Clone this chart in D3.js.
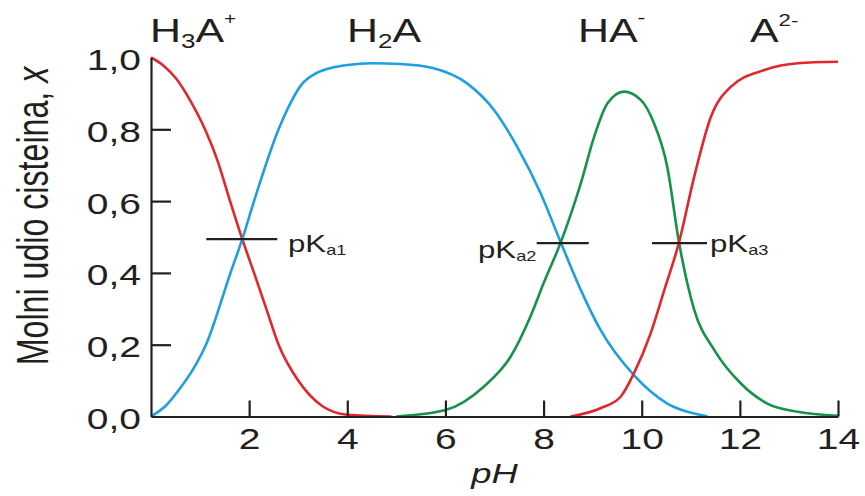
<!DOCTYPE html>
<html>
<head>
<meta charset="utf-8">
<script src="https://cdn.jsdelivr.net/npm/d3@7"></script>
<style>
  html, body { margin: 0; padding: 0; background: #fff; }
  svg { display: block; font-family: "Liberation Sans", Arial, sans-serif; }
</style>
</head>
<body>
<div id="chart"></div>
<script>
// Fractions of cysteine species vs pH
const phH3A = [0, 0.25, 0.52, 0.8, 1.1, 1.35, 1.6, 1.86, 2.1, 2.35, 2.6, 3.0, 3.48, 4.0, 4.9];
const fracH3A = [1.0, 0.978, 0.94, 0.88, 0.8, 0.715, 0.605, 0.494, 0.4, 0.3, 0.2, 0.1, 0.03, 0.005, 0];

const phH2A = [0, 0.3, 0.6, 0.85, 1.12, 1.62, 1.86, 2.1, 2.6, 2.85, 3.07, 3.35, 3.7, 4.0, 4.5, 5.08, 5.76, 6.44, 6.99, 7.46, 7.94, 8.35, 8.76, 9.16, 9.84, 10.52, 11.2, 11.34];
const fracH2A = [0, 0.03, 0.08, 0.13, 0.2, 0.4, 0.494, 0.6, 0.8, 0.875, 0.925, 0.955, 0.972, 0.979, 0.984, 0.982, 0.97, 0.928, 0.854, 0.752, 0.622, 0.485, 0.352, 0.241, 0.115, 0.036, 0.004, 0];

const phHA = [5.0, 6.0, 6.78, 7.33, 7.73, 8.0, 8.35, 8.76, 9.03, 9.3, 9.64, 9.98, 10.25, 10.52, 10.76, 11.07, 11.48, 12.02, 12.56, 13.18, 14];
const fracHA = [0, 0.018, 0.083, 0.167, 0.278, 0.371, 0.485, 0.65, 0.779, 0.872, 0.905, 0.882, 0.817, 0.696, 0.485, 0.297, 0.185, 0.092, 0.036, 0.013, 0.002];

const phA = [8.55, 9.16, 9.57, 9.84, 10.18, 10.46, 10.76, 11.07, 11.41, 11.82, 12.5, 13.18, 14];
const fracA = [0, 0.023, 0.055, 0.12, 0.231, 0.352, 0.485, 0.668, 0.835, 0.919, 0.965, 0.984, 0.988];

// pKa markers: pH of crossing and fraction level
const pkaValues = [1.86, 8.35, 10.76];
const pkaLevels = [0.494, 0.483, 0.483];
const pkaSubs = ['a1', 'a2', 'a3'];

const xTicks = [2, 4, 6, 8, 10, 12, 14];
const yTicks = [0, 0.2, 0.4, 0.6, 0.8, 1.0];
const yTickLabels = ['0,0', '0,2', '0,4', '0,6', '0,8', '1,0'];

const width = 865, height = 496;
const SX = 1.3; // the figure is stretched horizontally
const ink = '#231f20';

const svg = d3.select('#chart').append('svg')
  .attr('width', width)
  .attr('height', height);

const x = d3.scaleLinear().domain([0, 14]).range([151, 838]);
const y = d3.scaleLinear().domain([0, 1]).range([416.5, 57.5]);

// helper for horizontally stretched text
function sText(px, py, size, anchor) {
  return svg.append('text')
    .attr('transform', `translate(${px},${py}) scale(${SX},1)`)
    .attr('text-anchor', anchor || 'start')
    .style('font-size', size + 'px')
    .style('fill', ink);
}

// curves
const line = d3.line()
  .x(d => x(d[0]))
  .y(d => y(d[1]))
  .curve(d3.curveMonotoneX);

const series = [
  { ph: phH3A, v: fracH3A, color: '#e2262b' },
  { ph: phH2A, v: fracH2A, color: '#1d9fe0' },
  { ph: phHA, v: fracHA, color: '#16924a' },
  { ph: phA, v: fracA, color: '#e2262b' }
];

svg.append('g').selectAll('path')
  .data(series)
  .join('path')
  .attr('d', s => line(s.ph.map((p, i) => [p, s.v[i]])))
  .attr('fill', 'none')
  .attr('stroke', s => s.color)
  .attr('stroke-width', 2.6);

// axes
const yAxis = d3.axisLeft(y)
  .tickValues(yTicks)
  .tickSizeInner(-20)
  .tickSizeOuter(0)
  .tickFormat((d, i) => yTickLabels[i]);

const yg = svg.append('g')
  .attr('transform', `translate(${x(0)},0)`)
  .call(yAxis);

const xAxis = d3.axisBottom(x)
  .tickValues(xTicks)
  .tickSizeInner(-16)
  .tickSizeOuter(0)
  .tickFormat(d => d);

const xg = svg.append('g')
  .attr('transform', `translate(0,${y(0)})`)
  .call(xAxis);

[yg, xg].forEach(g => {
  g.select('.domain').attr('stroke', ink).attr('stroke-width', 2.2);
  g.selectAll('.tick line').attr('stroke', ink).attr('stroke-width', 2.2);
  g.selectAll('.tick text')
    .style('font-size', '30px')
    .style('font-family', '"Liberation Sans", Arial, sans-serif')
    .attr('fill', ink);
});

yg.selectAll('.tick line').filter(d => d === 0 || d === 1).remove();
yg.selectAll('.tick text')
  .attr('x', null).attr('dy', null)
  .attr('transform', `translate(-10,12) scale(${SX},1)`);
xg.selectAll('.tick text')
  .attr('y', null).attr('dy', null)
  .attr('transform', `translate(0,32) scale(${SX},1)`);

// pKa markers
const markerHalf = [[36, 35], [24, 28], [27, 28]];
pkaValues.forEach((p, i) => {
  svg.append('line')
    .attr('x1', x(p) - markerHalf[i][0])
    .attr('x2', x(p) + markerHalf[i][1])
    .attr('y1', y(pkaLevels[i]))
    .attr('y2', y(pkaLevels[i]))
    .attr('stroke', ink)
    .attr('stroke-width', 2.2);
});

const pkaPos = [[288, 252], [478, 258], [710, 252]];
pkaPos.forEach((pos, i) => {
  const t = sText(pos[0], pos[1], 24);
  t.append('tspan').text('pK');
  t.append('tspan').attr('dy', 3).style('font-size', '14px').text(pkaSubs[i]);
});

// species labels
const s1 = sText(150, 42, 33);
s1.append('tspan').text('H');
s1.append('tspan').attr('dy', 6).style('font-size', '20px').text('3');
s1.append('tspan').attr('dy', -6).text('A');
s1.append('tspan').attr('dy', -18).style('font-size', '16px').text('+');

const s2 = sText(347, 42, 33);
s2.append('tspan').text('H');
s2.append('tspan').attr('dy', 6).style('font-size', '20px').text('2');
s2.append('tspan').attr('dy', -6).text('A');

const s3 = sText(578, 42, 33);
s3.append('tspan').text('HA');
s3.append('tspan').attr('dy', -18).style('font-size', '18px').text('-');

const s4 = sText(750, 42, 33);
s4.append('tspan').text('A');
s4.append('tspan').attr('dy', -16).style('font-size', '17px').text('2-');

// axis titles
const xt = sText(x(7), 483, 28, 'middle').style('font-style', 'italic');
xt.text('pH');

// narrow, tall y title (the source image squeezes it)
const yt = svg.append('text')
  .attr('transform', 'translate(48,216) rotate(-90) scale(0.715,1)')
  .attr('text-anchor', 'middle')
  .style('font-size', '45px')
  .style('fill', ink);
yt.append('tspan').text('Molni udio cisteina, ');
yt.append('tspan').style('font-style', 'italic').text('x');
</script>
</body>
</html>
